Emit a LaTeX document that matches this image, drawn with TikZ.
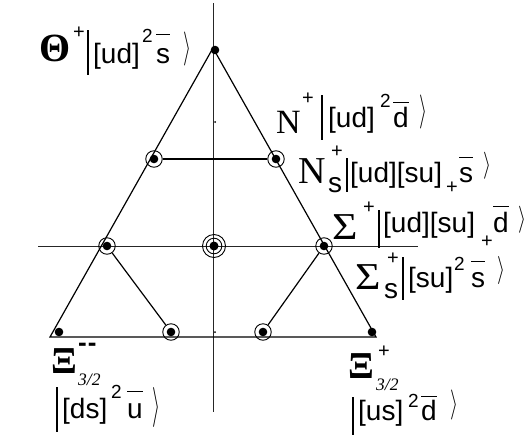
\documentclass[tikz,border=0pt]{standalone}
\usepackage{fontspec}
\setmainfont{Liberation Serif}
\setsansfont{Liberation Sans}
\usepackage{graphicx}
\newsavebox\obbox
\newcommand\ob[2]{\sbox\obbox{#2}\rlap{\raisebox{#1}{\rule{\wd\obbox}{1.3pt}}}\usebox\obbox}
\newcommand\kc[1]{\resizebox*{8pt}{#1}{$\rangle$}}
\newcommand\fs[1]{\fontsize{#1}{#1}\selectfont}
\newcommand\wideS{\scalebox{1.15}[1]{Σ}}
\tikzset{
  sf/.style={anchor=base west, inner sep=0pt, font=\sffamily\fs{28}},
  sup/.style={anchor=base west, inner sep=0pt, font=\sffamily\fs{20}},
  two/.style={anchor=base west, inner sep=0pt, font=\sffamily\fs{19}},
  gr/.style={anchor=base west, inner sep=0pt, font=\fs{38}},
  grb/.style={anchor=base west, inner sep=0pt, font=\bfseries\fs{38}},
  frac/.style={anchor=base west, inner sep=0pt, font=\itshape\fs{17.5}},
  kcl/.style={anchor=center, inner sep=0pt},
  kbar/.style={fill=black, draw=none, inner sep=0pt, minimum width=2.4pt, anchor=north},
  axis/.style={line width=1pt, black!85},
  edge/.style={line width=1.2pt},
  dotn/.style={circle, fill=black, minimum size=8.6pt, inner sep=0pt},
  tiny/.style={circle, fill=black, minimum size=2pt, inner sep=0pt},
  ring/.style={circle, draw, minimum size=16.5pt, inner sep=0pt, line width=0.9pt,
    path picture={\fill (path picture bounding box.center) circle (4.3pt);}},
  dring/.style={circle, draw, minimum size=23pt, inner sep=0pt, line width=0.9pt,
    path picture={\fill (path picture bounding box.center) circle (4.5pt);
                  \draw[line width=0.9pt] (path picture bounding box.center) circle (7.8pt);}},
}
\begin{document}
\begin{tikzpicture}[x=1pt,y=-1pt]
\useasboundingbox (0,0) rectangle (529,439);
% axes
\coordinate (vt) at (213,3);
\coordinate (vb) at (213,412);
\coordinate (hl) at (38,246);
\coordinate (hr) at (418,246);
\draw[axis] (vt) -- (vb);
\draw[axis] (hl) -- (hr);
% triangle
\coordinate (A) at (213,48);
\coordinate (L) at (50,337);
\coordinate (R) at (376,337);
\draw[edge, line join=miter] (A) -- (L) -- (R) -- cycle;
% states
\node[dotn] (theta) at (215,50) {};
\node[ring] (nsl) at (154,159) {};
\node[ring] (nsr) at (276,159) {};
\node[ring] (sl) at (107,246) {};
\node[dring] (c) at (214,246) {};
\node[ring] (sr) at (324,246) {};
\node[ring] (bl) at (171,332) {};
\node[ring] (br) at (263,332) {};
\node[dotn] (xl) at (59,332) {};
\node[dotn] (xr) at (372,332) {};
\node[tiny] (m1) at (215,122) {};
\node[tiny] (m2) at (215,332) {};
\draw[edge] (nsl) -- (nsr);
\draw[edge] (sl) -- (bl);
\draw[edge] (sr) -- (br);
% Theta label
\node[grb, font=\bfseries\fs{40}] (t1) at (39,61) {Θ};
\node[sup] (t2) at (73,38) {+};
\node[kbar, minimum height=45pt] (t3) at (88,30) {};
\node[sf] (t4) at (93,63) {[ud]};
\node[two] (t5) at (142,42) {2};
\node[sf] (t6) at (156,63) {\ob{28pt}{s}};
\node[kcl] (t7) at (187,48.5) {\kc{34pt}};
% N+ label
\node[gr, font=\fs{34}] (n1) at (276,133) {N};
\node[sup] (n2) at (302,104) {+};
\node[kbar, minimum height=45pt] (n3) at (322,95) {};
\node[sf] (n4) at (328,127) {[ud]};
\node[two] (n5) at (380,107) {2};
\node[sf] (n6) at (393,127) {\ob{24pt}{d}};
\node[kcl] (n7) at (423,112) {\kc{34pt}};
% Ns label
\node[gr] (s1) at (298,183) {N};
\node[sup] (s2) at (331,157) {+};
\node[sf] (s3) at (328,192) {s};
\node[kbar, minimum height=34pt] (s4) at (347,158) {};
\node[sf] (s5) at (350,182) {[ud][su]};
\node[sup] (s6) at (446,193) {+};
\node[sf] (s7) at (459,182) {\ob{24pt}{s}};
\node[kcl] (s8) at (487,166) {\kc{27pt}};
% Sigma+ label
\node[gr] (g1) at (332,239) {\wideS};
\node[sup] (g2) at (363,213) {+};
\node[kbar, minimum height=38pt] (g3) at (379,210) {};
\node[sf] (g4) at (383,232) {[ud][su]};
\node[sup] (g5) at (481,247) {+};
\node[sf] (g6) at (493,232) {\ob{25pt}{d}};
\node[kcl] (g7) at (522,220) {\kc{27pt}};
% Sigma_s label
\node[gr] (h1) at (355,289) {\wideS};
\node[sup] (h2) at (387,264) {+};
\node[sf] (h3) at (384,298) {s};
\node[kbar, minimum height=43pt] (h4) at (403,257) {};
\node[sf] (h5) at (408,287) {[su]};
\node[two] (h6) at (454,270) {2};
\node[sf] (h7) at (471,287) {\ob{25pt}{s}};
\node[kcl] (h8) at (501,270) {\kc{28pt}};
% Xi-- label
\node[grb] (x1) at (51,373) {Ξ};
\node[sup, font=\sffamily\bfseries\fs{26}] (x2) at (78,351) {-\hspace{1pt}-};
\node[frac] (x3) at (78,385) {3/2};
\node[kbar, minimum height=45pt] (x4) at (57,387) {};
\node[sf] (x5) at (62,418) {[ds]};
\node[two] (x6) at (111,398) {2};
\node[sf] (x7) at (127,418) {\ob{26pt}{u}};
\node[kcl] (x8) at (156,407) {\kc{40pt}};
% Xi+ label
\node[grb] (y1) at (348,378) {Ξ};
\node[sup] (y2) at (378,357) {+};
\node[frac] (y3) at (376,390) {3/2};
\node[kbar, minimum height=38pt] (y4) at (353,397) {};
\node[sf] (y5) at (358,420) {[us]};
\node[two] (y6) at (408,407) {2};
\node[sf] (y7) at (421,420) {\ob{23pt}{d}};
\node[kcl] (y8) at (454,405) {\kc{30pt}};
\end{tikzpicture}
\end{document}
